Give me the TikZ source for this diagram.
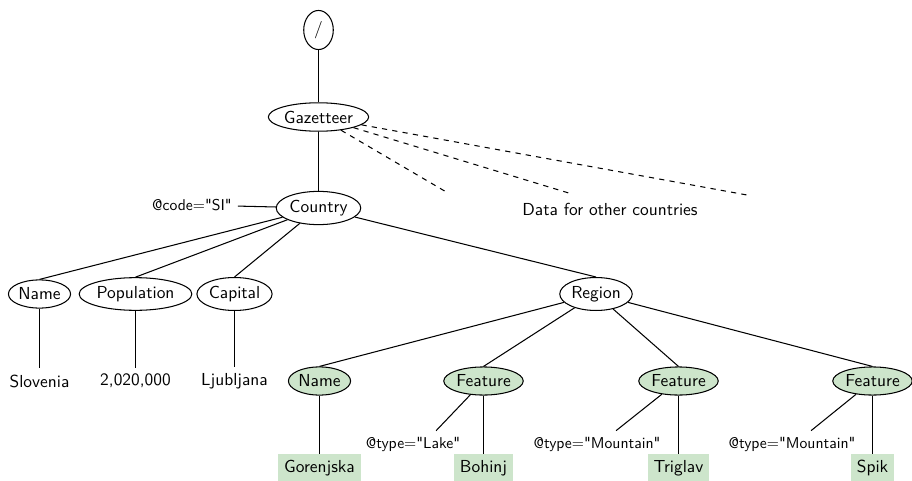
\documentclass[tikz,border=0pt]{standalone}
\usepackage{fontspec}
\setsansfont{lmsans10-regular.otf}[BoldFont=lmsans10-bold.otf, Ligatures=TeXOff]
\usepackage{tikz}
\usetikzlibrary{shapes.geometric}

\definecolor{leafgreen}{RGB}{205,229,203}

\begin{document}
\begin{tikzpicture}[
    x=0.575pt, y=-0.575pt,
    font=\sffamily,
    elem/.style={ellipse, draw, semithick, inner xsep=0.5pt, inner ysep=2.2pt},
    part/.style={elem, fill=leafgreen},
    value/.style={rectangle, fill=leafgreen},
    attr/.style={font=\sffamily\small},
    edge/.style={semithick},
    other/.style={semithick, dashed}
]
    \useasboundingbox (0,0) rectangle (912,481);

    % Root and document element
    \node[elem, minimum width=17pt, minimum height=22.5pt] (root) at (318.5,30) {/};
    \node[elem] (gaz) at (318.5,117) {Gazetteer};
    \node[elem] (country) at (318.5,208) {Country};
    \node[attr] (code) at (192,205) {@code="SI"};

    % Other countries
    \node (others) at (610,209) {Data for other countries};
    \coordinate (d1) at (448,193);
    \coordinate (d2) at (572,194);
    \coordinate (d3) at (747,195);

    % Country children
    \node[elem] (name) at (39.5,294) {Name};
    \node[elem] (pop) at (135.5,294) {Population};
    \node[elem] (cap) at (234.5,294) {Capital};
    \node[elem] (region) at (596,294) {Region};
    \node (slov) at (39.5,381) {Slovenia};
    \node (popval) at (135.5,381) {2,020,000};
    \node (capval) at (234.5,381) {Ljubljana};

    % Region children
    \node[part] (rname) at (319.5,381) {Name};
    \node[part] (lake) at (483.5,381) {Feature};
    \node[part] (mount) at (678.5,381) {Feature};
    \node[part] (peak) at (872.5,381) {Feature};
    \node[attr] (laketype) at (413,444) {@type="Lake"};
    \node[attr] (mounttype) at (597,444) {@type="Mountain"};
    \node[attr] (peaktype) at (792,444) {@type="Mountain"};
    \node[value] (gor) at (319.5,468) {Gorenjska};
    \node[value] (boh) at (483.5,468) {Bohinj};
    \node[value] (tri) at (678.5,468) {Triglav};
    \node[value] (spik) at (872.5,468) {Spik};

    % Edges
    \draw[edge] (root) -- (gaz);
    \draw[edge] (gaz) -- (country);
    \draw[edge] (code) -- (country);
    \draw[other] (gaz) -- (d1);
    \draw[other] (gaz) -- (d2);
    \draw[other] (gaz) -- (d3);
    \draw[edge] (country) -- (name.north);
    \draw[edge] (country) -- (pop.north);
    \draw[edge] (country) -- (cap.north);
    \draw[edge] (country) -- (region.north);
    \draw[edge] (name) -- (slov);
    \draw[edge] (pop) -- (popval);
    \draw[edge] (cap) -- (capval);
    \draw[edge] (region) -- (rname.north);
    \draw[edge] (region) -- (lake.north);
    \draw[edge] (region) -- (mount.north);
    \draw[edge] (region) -- (peak.north);
    \draw[edge] (rname) -- (gor);
    \draw[edge] (lake) -- (boh);
    \draw[edge] (mount) -- (tri);
    \draw[edge] (peak) -- (spik);
    \draw[edge] (lake) -- (laketype.30);
    \draw[edge] (mount) -- (mounttype.35);
    \draw[edge] (peak) -- (peaktype.35);
\end{tikzpicture}
\end{document}
